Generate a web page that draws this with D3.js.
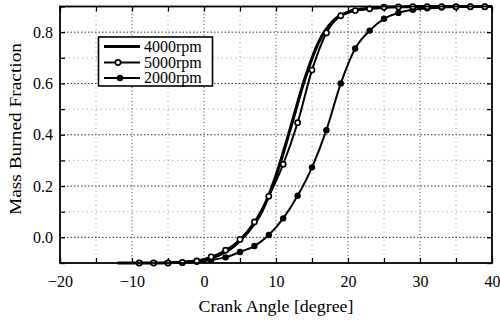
<!DOCTYPE html>
<html><head><meta charset="utf-8">
<script src="https://cdn.jsdelivr.net/npm/d3@7"></script>
<style>body{margin:0;background:#fff}svg{display:block}</style>
</head><body>
<svg id="c" width="500" height="320"></svg>
<script>
// ---- data ----
const seriesNames = ["4000rpm", "5000rpm", "2000rpm"];
const angles4000 = [-12,-8,-4,-2,0,2,4,6,8,10,12,14,16,18,20,22,24,26,30,35,40];
const mbf4000 = [-0.1,-0.1,-0.098,-0.095,-0.088,-0.07,-0.038,0.018,0.1,0.24,0.425,0.617,0.765,0.845,0.878,0.89,0.895,0.898,0.9,0.9,0.9];
const angles5000 = [-9,-7,-5,-3,-1,1,3,5,7,9,11,13,15,17,19,21,23,25,27,29,31,33,35,37,39];
const mbf5000 = [-0.1,-0.1,-0.1,-0.098,-0.092,-0.076,-0.05,-0.008,0.06,0.16,0.285,0.447,0.652,0.797,0.864,0.884,0.891,0.897,0.898,0.899,0.899,0.899,0.899,0.899,0.899];
const angles2000 = [-9,-7,-5,-3,-1,1,3,5,7,9,11,13,15,17,19,21,23,25,27,29,31,33,35,37,39];
const mbf2000 = [-0.1,-0.1,-0.1,-0.099,-0.095,-0.088,-0.078,-0.057,-0.034,0.009,0.074,0.162,0.273,0.418,0.6,0.736,0.806,0.852,0.875,0.887,0.893,0.896,0.898,0.899,0.899];
const xTickLabels = [-20,-10,0,10,20,30,40];
const yTickLabels = [0.0,0.2,0.4,0.6,0.8];
const xLabel = "Crank Angle [degree]";
const yLabel = "Mass Burned Fraction";

// ---- layout ----
const svg = d3.select("#c");
const L = 60, R = 492, T = 6.5, B = 263;
const x = d3.scaleLinear().domain([-20, 40]).range([L, R]);
const y = d3.scaleLinear().domain([-0.1, 0.9]).range([B, T]);
const font = "'Liberation Serif', 'Times New Roman', serif";

const xMinor = d3.range(-20, 40.01, 5);
const yMinor = d3.range(-0.1, 0.901, 0.1).map(v => +v.toFixed(2));

// grid
const g = svg.append("g");
g.selectAll(".gx").data(xMinor.filter(v => v > -20 && v < 40)).enter().append("line")
  .attr("x1", d => x(d)).attr("x2", d => x(d)).attr("y1", T).attr("y2", B)
  .attr("stroke", d => d % 10 === 0 ? "#444" : "#999").attr("stroke-width", 1)
  .attr("stroke-dasharray", d => d % 10 === 0 ? "1,2.5" : "1,3.5");
g.selectAll(".gy").data(yMinor.filter(v => v > -0.1 && v < 0.9)).enter().append("line")
  .attr("y1", d => y(d)).attr("y2", d => y(d)).attr("x1", L).attr("x2", R)
  .attr("stroke", d => Math.round(d * 10) % 2 === 0 ? "#333" : "#999").attr("stroke-width", 1)
  .attr("stroke-dasharray", d => Math.round(d * 10) % 2 === 0 ? "1.5,2" : "1,3.5");

// axes with inward ticks
const fmtX = d => d < 0 ? "\u2212" + Math.abs(d) : String(d);
const axB = d3.axisBottom(x).tickValues(xMinor).tickSize(-5).tickPadding(13)
  .tickFormat(d => xTickLabels.includes(d) ? fmtX(d) : "");
const axT = d3.axisTop(x).tickValues(xMinor).tickSize(-5).tickFormat("");
const axL = d3.axisLeft(y).tickValues(yMinor).tickSize(-5).tickPadding(7)
  .tickFormat(d => yTickLabels.some(v => Math.abs(v - d) < 1e-6) ? d.toFixed(1) : "");
const axRt = d3.axisRight(y).tickValues(yMinor).tickSize(-5).tickFormat("");
function style(sel) {
  sel.select(".domain").remove();
  sel.selectAll(".tick line").attr("stroke", "#000").attr("stroke-width", 1.3);
  sel.selectAll("text").attr("font-family", font).attr("font-size", 16).attr("fill", "#000");
}
svg.append("g").attr("transform", `translate(0,${B})`).call(axB).call(style);
svg.append("g").attr("transform", `translate(0,${T})`).call(axT).call(style);
svg.append("g").attr("transform", `translate(${L},0)`).call(axL).call(style);
svg.append("g").attr("transform", `translate(${R},0)`).call(axRt).call(style);

// series
const line = d3.line().x(d => x(d[0])).y(d => y(d[1])).curve(d3.curveMonotoneX);
const d4000 = angles4000.map((a, i) => [a, mbf4000[i]]);
const d5000 = angles5000.map((a, i) => [a, mbf5000[i]]);
const d2000 = angles2000.map((a, i) => [a, mbf2000[i]]);
const plot = svg.append("g");
plot.append("path").datum(d2000).attr("d", line).attr("fill", "none").attr("stroke", "#000").attr("stroke-width", 2);
plot.selectAll(".m2").data(d2000).enter().append("circle")
  .attr("cx", d => x(d[0])).attr("cy", d => y(d[1])).attr("r", 3.2).attr("fill", "#000");
plot.append("path").datum(d4000).attr("d", line).attr("fill", "none").attr("stroke", "#000").attr("stroke-width", 3.2);
plot.append("path").datum(d5000).attr("d", line).attr("fill", "none").attr("stroke", "#000").attr("stroke-width", 2);
plot.selectAll(".m5").data(d5000).enter().append("circle")
  .attr("cx", d => x(d[0])).attr("cy", d => y(d[1])).attr("r", 2.6)
  .attr("fill", "#fff").attr("stroke", "#000").attr("stroke-width", 1.6);

// frame
svg.append("rect").attr("x", L).attr("y", T).attr("width", R - L).attr("height", B - T)
  .attr("fill", "none").attr("stroke", "#000").attr("stroke-width", 1.8);

// axis labels
svg.append("text").attr("x", 276).attr("y", 312).attr("text-anchor", "middle")
  .attr("font-family", font).attr("font-size", 17).attr("textLength", 155).attr("lengthAdjust", "spacingAndGlyphs")
  .text(xLabel);
svg.append("text").attr("transform", `translate(21,${(43 + 215) / 2}) rotate(-90)`).attr("text-anchor", "middle")
  .attr("font-family", font).attr("font-size", 17).attr("textLength", 172).attr("lengthAdjust", "spacingAndGlyphs")
  .text(yLabel);

// legend
const lg = svg.append("g");
lg.append("rect").attr("x", 98.5).attr("y", 37).attr("width", 114).attr("height", 49)
  .attr("fill", "#fff").attr("stroke", "#000").attr("stroke-width", 1.6);
const rowsY = [46.5, 62.5, 78];
seriesNames.forEach((name, i) => {
  const yy = rowsY[i];
  lg.append("line").attr("x1", 104).attr("x2", 140).attr("y1", yy).attr("y2", yy)
    .attr("stroke", "#000").attr("stroke-width", i === 0 ? 3.2 : 2);
  if (i === 1) lg.append("circle").attr("cx", 118).attr("cy", yy).attr("r", 2.6).attr("fill", "#fff").attr("stroke", "#000").attr("stroke-width", 1.6);
  if (i === 2) lg.append("circle").attr("cx", 120).attr("cy", yy).attr("r", 3.2).attr("fill", "#000");
  lg.append("text").attr("x", 144).attr("y", yy + 5).attr("font-family", font).attr("font-size", 16).text(name);
});
</script>
</body></html>
